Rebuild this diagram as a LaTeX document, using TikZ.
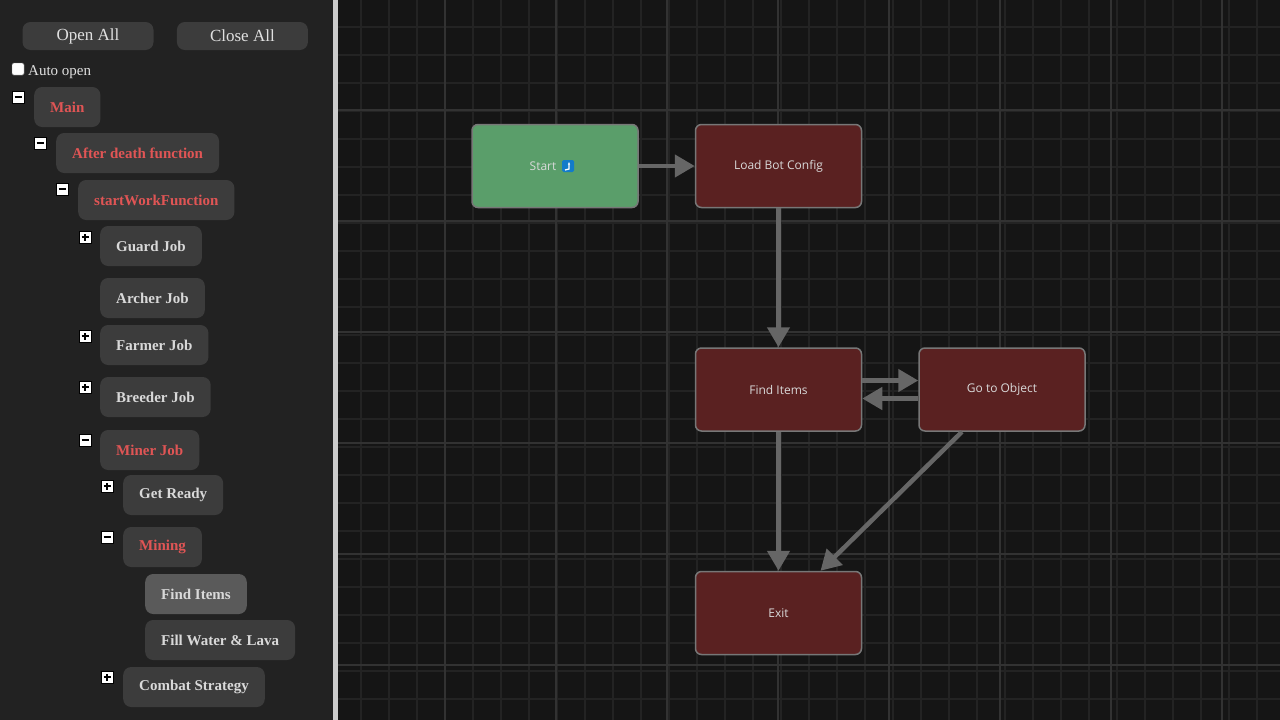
\documentclass[tikz,border=0pt]{standalone}
\usepackage{fontspec}
\setmainfont{Liberation Serif}
\newfontfamily\uifont{Open Sans}
\usetikzlibrary{arrows.meta, positioning}

\definecolor{panelbg}{HTML}{222222}
\definecolor{canvasbg}{HTML}{151515}
\definecolor{gridminor}{HTML}{232323}
\definecolor{gridmajor}{HTML}{323232}
\definecolor{itembg}{HTML}{3C3C3C}
\definecolor{itemhi}{HTML}{5A5A5A}
\definecolor{itemred}{HTML}{E05555}
\definecolor{statered}{HTML}{5A2121}
\definecolor{stategreen}{HTML}{5A9E6A}
\definecolor{stateline}{HTML}{777777}
\definecolor{arrowgray}{HTML}{666666}

\begin{document}
\begin{tikzpicture}[
    x=1pt, y=-1pt,
    btn/.style={fill=itembg, rounded corners=8pt, minimum width=131pt,
                minimum height=28pt, text=white!88!black, font=\fontsize{17}{17}\selectfont},
    item/.style={fill=itembg, rounded corners=8pt, minimum height=40pt,
                 inner xsep=16pt, anchor=west, text=white!85!black,
                 font=\fontsize{15}{15}\selectfont\bfseries},
    open/.style={item, text=itemred},
    tog/.style={draw=black, fill=white, minimum size=12pt, inner sep=0pt},
    state/.style={draw=stateline, line width=1.5pt, fill=statered, rounded corners=6pt,
                  minimum width=166pt, minimum height=83pt, text=white!85!black,
                  font=\uifont\fontsize{12}{12}\selectfont},
    arr/.style={-{Triangle[length=20pt,width=22pt]}, line width=4.5pt, draw=arrowgray},
    node distance=56pt
]
\newcommand\minusbox[2]{\node[tog] (#1) at #2 {};
  \draw[black, line width=2pt] ([xshift=-3.5pt]#1.center) -- ([xshift=3.5pt]#1.center);}
\newcommand\plusbox[2]{\minusbox{#1}{#2}
  \draw[black, line width=2pt] ([yshift=-3.5pt]#1.center) -- ([yshift=3.5pt]#1.center);}
\useasboundingbox (0,0) rectangle (1280,720);
% backgrounds
\fill[canvasbg] (0,0) rectangle (1280,720);
\fill[panelbg] (0,0) rectangle (333,720);
\fill[white!80!black] (333,0) rectangle (338,720);

% grid
\foreach \x in {361,389,...,1280} \draw[gridminor, line width=1.2pt] (\x,0) -- (\x,720);
\foreach \y in {27,55,...,720} \draw[gridminor, line width=1.2pt] (338,\y) -- (1280,\y);
\foreach \x in {445,556,...,1280} \draw[gridmajor, line width=2pt] (\x,0) -- (\x,720);
\foreach \y in {110,221,...,720} \draw[gridmajor, line width=2pt] (338,\y) -- (1280,\y);

% side panel
\node[btn] (openall) at (88,36) {Open All};
\node[btn, right=23pt of openall] (closeall) {Close All};
\node[draw=gray, fill=white, minimum size=12pt, inner sep=0pt, rounded corners=1.5pt] (autobox) at (18,69) {};
\node[anchor=west, inner sep=0pt, text=white!88!black, font=\fontsize{15}{15}\selectfont] (autoopen) at (28,72) {Auto open};

\minusbox{tmain}{(18,97)}
\node[open] (main) at (34,107) {Main};
\minusbox{tdeath}{(40,143)}
\node[open] (death) at (56,153) {After death function};
\minusbox{twork}{(62,189)}
\node[open] (work) at (78,200) {startWorkFunction};
\plusbox{tguard}{(85,237)}
\node[item] (guard) at (100,246) {Guard Job};
\node[item] (archer) at (100,298) {Archer Job};
\plusbox{tfarmer}{(85,336)}
\node[item] (farmer) at (100,345) {Farmer Job};
\plusbox{tbreeder}{(85,387)}
\node[item] (breeder) at (100,397) {Breeder Job};
\minusbox{tminer}{(85,440)}
\node[open] (miner) at (100,450) {Miner Job};
\plusbox{tready}{(107,486)}
\node[item] (ready) at (123,495) {Get Ready};
\minusbox{tmining}{(107,537)}
\node[open] (mining) at (123,547) {Mining};
\node[item, fill=itemhi] (finditem) at (145,594) {Find Items};
\node[item] (fill) at (145,640) {Fill Water \& Lava};
\plusbox{tcombat}{(107,677)}
\node[item] (combat) at (123,687) {Combat Strategy};

% state machine
\node[state, fill=stategreen] (start) at (555,166) {Start\hspace*{24pt}};
\node[fill=cyan!60!blue, rounded corners=1.5pt, minimum size=12pt, inner sep=0pt]
    (starticon) at ([xshift=13pt]start.center) {};
\draw[white, line width=1.3pt, -{Stealth[length=3pt]}]
    ([xshift=-3pt,yshift=-4pt]starticon.center) -- ([xshift=1pt,yshift=-3pt]starticon.center)
    -- ([xshift=1pt,yshift=4pt]starticon.center);
\node[state, right=of start] (loadcfg) {Load Bot Config};
\node[state, below=139pt of loadcfg] (findit) {Find Items};
\node[state, right=of findit] (gotoobj) {Go to Object};
\node[state, below=139pt of findit] (exit) {Exit};

\draw[arr] (start) -- (loadcfg);
\draw[arr] (loadcfg) -- (findit);
\draw[arr] ([yshift=9pt]findit.east) -- ([yshift=9pt]gotoobj.west);
\draw[arr] ([yshift=-9pt]gotoobj.west) -- ([yshift=-9pt]findit.east);
\draw[arr] (findit) -- (exit);
\draw[arr] ([xshift=-40pt]gotoobj.south) -- ([xshift=42pt]exit.north);
\end{tikzpicture}
\end{document}
